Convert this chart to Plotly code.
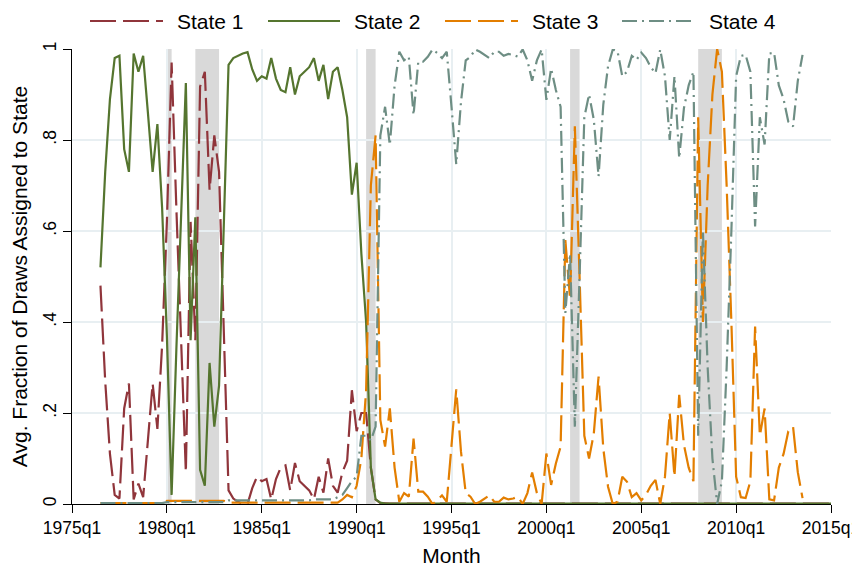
import plotly.graph_objects as go

# Quarterly series, Stata %tq units (1960q1 = 0); first observation is 1976q3
FIRST_Q = 66

state1 = [
    0.48, 0.27,
    0.11, 0.02, 0.012, 0.21,
    0.265, 0.01, 0.045, 0.015,
    0.14, 0.265, 0.165, 0.35,
    0.62, 0.97, 0.65, 0.36,
    0.07, 0.62, 0.36, 0.917,
    0.95, 0.69, 0.81, 0.73,
    0.38, 0.03, 0.012, 0.005,
    0.0, 0.0, 0.035, 0.06,
    0.05, 0.055, 0.01, 0.055,
    0.08, 0.085, 0.03, 0.09,
    0.05, 0.04, 0.03, 0.01,
    0.06, 0.025, 0.1, 0.04,
    0.025, 0.07, 0.095, 0.25,
    0.16, 0.2, 0.2, 0.08,
    0.01, 0.002, 0.001, 0.001,
    0.001, 0.001, 0.001, 0.001,
    0.001, 0.001, 0.001, 0.001,
    0.001, 0.001, 0.001, 0.001,
    0.001, 0.001, 0.001, 0.001,
    0.001, 0.001, 0.001, 0.001,
    0.001, 0.001, 0.001, 0.001,
    0.001, 0.001, 0.001, 0.001,
    0.001, 0.001, 0.001, 0.001,
    0.001, 0.001, 0.001, 0.001,
    0.001, 0.001, 0.001, 0.001,
    0.001, 0.001, 0.001, 0.001,
    0.001, 0.001, 0.001, 0.001,
    0.001, 0.001, 0.001, 0.001,
    0.001, 0.001, 0.001, 0.001,
    0.001, 0.001, 0.001, 0.001,
    0.001, 0.001, 0.001, 0.001,
    0.001, 0.001, 0.001, 0.001,
    0.001, 0.001, 0.001, 0.001,
    0.001, 0.001, 0.001, 0.001,
    0.001, 0.001, 0.001, 0.001,
    0.001, 0.001, 0.001, 0.001,
    0.001, 0.001, 0.001, 0.001,
    0.001, 0.001, 0.001, 0.001,
    0.001, 0.001, 0.001,
]

state2 = [
    0.52, 0.73,
    0.89, 0.98, 0.985, 0.78,
    0.73, 0.99, 0.95, 0.985,
    0.86, 0.73, 0.835, 0.65,
    0.37, 0.02, 0.34, 0.63,
    0.925, 0.36, 0.63, 0.075,
    0.04, 0.31, 0.17, 0.26,
    0.6, 0.965, 0.98, 0.985,
    0.99, 0.993, 0.955, 0.93,
    0.94, 0.935, 0.98, 0.935,
    0.91, 0.905, 0.96, 0.9,
    0.94, 0.95, 0.96, 0.98,
    0.93, 0.965, 0.89, 0.95,
    0.96, 0.91, 0.85, 0.68,
    0.75, 0.55, 0.4, 0.08,
    0.01, 0.003, 0.001, 0.001,
    0.001, 0.001, 0.001, 0.001,
    0.001, 0.001, 0.001, 0.001,
    0.001, 0.001, 0.001, 0.001,
    0.001, 0.001, 0.001, 0.001,
    0.001, 0.001, 0.001, 0.001,
    0.001, 0.001, 0.001, 0.001,
    0.001, 0.001, 0.001, 0.001,
    0.001, 0.001, 0.001, 0.001,
    0.001, 0.001, 0.001, 0.001,
    0.001, 0.001, 0.001, 0.001,
    0.001, 0.001, 0.001, 0.001,
    0.001, 0.001, 0.001, 0.001,
    0.001, 0.001, 0.001, 0.001,
    0.001, 0.001, 0.001, 0.001,
    0.001, 0.001, 0.001, 0.001,
    0.001, 0.001, 0.001, 0.001,
    0.001, 0.001, 0.001, 0.001,
    0.001, 0.001, 0.001, 0.001,
    0.001, 0.001, 0.001, 0.001,
    0.001, 0.001, 0.001, 0.001,
    0.001, 0.001, 0.001, 0.001,
    0.001, 0.001, 0.001, 0.001,
    0.001, 0.001, 0.001, 0.001,
    0.001, 0.001, 0.001,
]

state3 = [
    0.002, 0.002,
    0.002, 0.002, 0.002, 0.002,
    0.002, 0.002, 0.002, 0.002,
    0.002, 0.002, 0.002, 0.002,
    0.007, 0.007, 0.007, 0.007,
    0.007, 0.007, 0.007, 0.007,
    0.007, 0.007, 0.007, 0.007,
    0.007, 0.003, 0.003, 0.003,
    0.003, 0.003, 0.003, 0.003,
    0.003, 0.003, 0.003, 0.003,
    0.003, 0.003, 0.003, 0.003,
    0.003, 0.003, 0.003, 0.003,
    0.003, 0.003, 0.003, 0.003,
    0.003, 0.01, 0.02, 0.015,
    0.04, 0.1, 0.25, 0.7,
    0.81, 0.185, 0.126, 0.21,
    0.08, 0.005, 0.024, 0.016,
    0.144, 0.027, 0.027, 0.016,
    0.0, 0.008, 0.019, 0.005,
    0.126, 0.252, 0.115, 0.024,
    0.016, 0.0, 0.005, 0.012,
    0.019, 0.005, 0.005, 0.014,
    0.01, 0.012, 0.016, 0.0,
    0.024, 0.069, 0.024, 0.0,
    0.111, 0.042, 0.089, 0.126,
    0.58, 0.45, 0.83, 0.5,
    0.15, 0.1, 0.155, 0.28,
    0.122, 0.038, 0.0, 0.005,
    0.06, 0.049, 0.015, 0.024,
    0.008, 0.02, 0.04, 0.053,
    0.0, 0.06, 0.2, 0.06,
    0.24, 0.13, 0.08, 0.05,
    0.85, 0.4, 0.7, 0.9,
    1.0, 0.95, 0.7, 0.4,
    0.06, 0.015, 0.013, 0.05,
    0.39, 0.15, 0.21, 0.01,
    0.008, 0.08, 0.11, 0.16,
    0.17, 0.07, 0.013,
]

state4 = [
    0.002, 0.002,
    0.002, 0.002, 0.002, 0.002,
    0.002, 0.002, 0.002, 0.002,
    0.002, 0.002, 0.002, 0.002,
    0.004, 0.004, 0.004, 0.004,
    0.004, 0.004, 0.004, 0.004,
    0.004, 0.004, 0.004, 0.004,
    0.004, 0.008, 0.008, 0.008,
    0.008, 0.008, 0.008, 0.008,
    0.008, 0.008, 0.008, 0.008,
    0.008, 0.008, 0.008, 0.008,
    0.008, 0.008, 0.008, 0.01,
    0.01, 0.01, 0.01, 0.01,
    0.015, 0.02, 0.035, 0.05,
    0.06, 0.15, 0.15, 0.14,
    0.17, 0.81, 0.873, 0.789,
    0.919, 0.994, 0.975, 0.983,
    0.855, 0.972, 0.972, 0.983,
    0.999, 0.991, 0.98, 0.994,
    0.873, 0.747, 0.884, 0.975,
    0.983, 0.999, 0.994, 0.987,
    0.98, 0.994, 0.994, 0.985,
    0.989, 0.987, 0.983, 0.999,
    0.975, 0.93, 0.975, 0.999,
    0.888, 0.957, 0.91, 0.873,
    0.42, 0.55, 0.17, 0.5,
    0.85, 0.9, 0.845, 0.72,
    0.878, 0.962, 0.999, 0.995,
    0.94, 0.95, 0.985, 0.976,
    0.992, 0.98, 0.96, 0.947,
    0.999, 0.94, 0.8, 0.94,
    0.76, 0.87, 0.92, 0.95,
    0.15, 0.6, 0.3, 0.1,
    0.0, 0.05, 0.3, 0.6,
    0.94, 0.985, 0.987, 0.95,
    0.61, 0.85, 0.79, 0.99,
    0.992, 0.92, 0.89, 0.84,
    0.83, 0.93, 0.987,
]

quarters = list(range(FIRST_Q, FIRST_Q + len(state1)))

# NBER recessions, start/end quarter in %tq units
recessions = [(80, 81), (86, 91), (122, 124), (165, 167), (192, 197)]

xtick_vals = [60, 80, 100, 120, 140, 160, 180, 200, 220]
xtick_text = ["1975q1", "1980q1", "1985q1", "1990q1", "1995q1",
              "2000q1", "2005q1", "2010q1", "2015q1"]
ytick_vals = [0, 0.2, 0.4, 0.6, 0.8, 1]
ytick_text = ["0", ".2", ".4", ".6", ".8", "1"]

series = [
    ("State 1", state1, "#90353b", "26px,7px"),
    ("State 2", state2, "#55752f", "solid"),
    ("State 3", state3, "#e37e00", "26px,7px"),
    ("State 4", state4, "#6e8e84", "15px,5px,2px,5px"),
]

FONT = "Liberation Sans, Arial, sans-serif"
GRID = "#e8eff2"

fig = go.Figure()
for name, vals, color, dash in series:
    fig.add_trace(go.Scatter(
        x=quarters, y=vals, name=name, mode="lines",
        line=dict(color=color, width=2.2, dash=dash),
        showlegend=False,
    ))

shapes = []
for q0, q1 in recessions:
    shapes.append(dict(type="rect", xref="x", yref="paper", x0=q0, x1=q1,
                       y0=0, y1=1, fillcolor="#d9d9d9", line_width=0,
                       layer="between"))

# Legend row above the plot: key line followed by its label
W, H = 852, 567
L, R, T, B = 72, 21, 49, 63
pw, ph = W - L - R, H - T - B


def px_to_paper(px, py):
    return (px - L) / pw, (H - B - py) / ph


legend_keys = [(90, 163), (268, 340), (445, 518), (622, 695)]
annotations = []
for (name, _, color, dash), (k0, k1) in zip(series, legend_keys):
    xa, ya = px_to_paper(k0, 21)
    xb, _ = px_to_paper(k1, 21)
    shapes.append(dict(type="line", xref="paper", yref="paper", x0=xa, x1=xb,
                       y0=ya, y1=ya, line=dict(color=color, width=2.2, dash=dash)))
    xt, yt = px_to_paper(k1 + 12, 21)
    annotations.append(dict(text=name, xref="paper", yref="paper", x=xt, y=yt,
                            xanchor="left", yanchor="middle", showarrow=False,
                            font=dict(family=FONT, size=21, color="#000000")))

fig.update_layout(
    width=W, height=H,
    margin=dict(l=L, r=R, t=T, b=B, autoexpand=False),
    paper_bgcolor="white", plot_bgcolor="white",
    font=dict(family=FONT, color="#000000"),
    shapes=shapes, annotations=annotations,
    xaxis=dict(
        range=[60, 220], tickmode="array", tickvals=xtick_vals, ticktext=xtick_text,
        automargin=False, ticklabeloverflow="allow",
        showgrid=True, gridcolor=GRID, gridwidth=1.5, zeroline=False,
        showline=True, linecolor="#000000", linewidth=1.2,
        ticks="outside", ticklen=8, tickcolor="#000000", tickwidth=1.2,
        tickfont=dict(size=17.5),
        title=dict(text="Month", font=dict(size=21), standoff=11),
    ),
    yaxis=dict(
        range=[0, 1], tickmode="array", tickvals=ytick_vals, ticktext=ytick_text,
        tickangle=-90, automargin=False,
        showgrid=True, gridcolor=GRID, gridwidth=1.5, zeroline=False,
        showline=True, linecolor="#000000", linewidth=1.2,
        ticks="outside", ticklen=8, tickcolor="#000000", tickwidth=1.2,
        tickfont=dict(size=17.5),
        title=dict(text="Avg. Fraction of Draws Assigned to State",
                   font=dict(size=21), standoff=6),
    ),
)

fig.write_html("out.html")
